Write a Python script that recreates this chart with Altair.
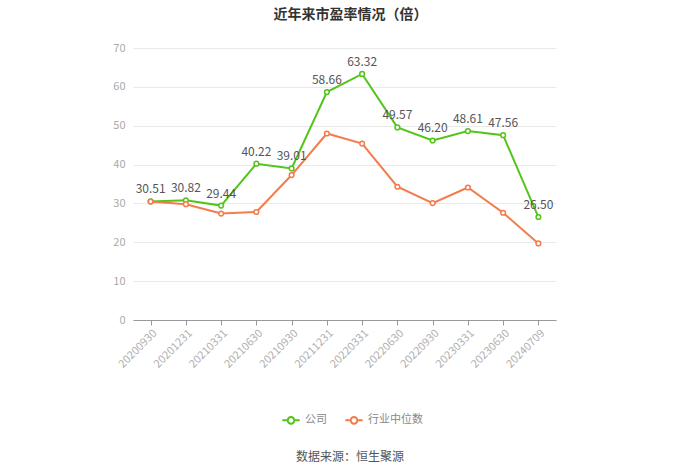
import altair as alt
import pandas as pd

dates = ["20200930", "20201231", "20210331", "20210630", "20210930", "20211231",
         "20220331", "20220630", "20220930", "20230331", "20230630", "20240709"]
company = [30.51, 30.82, 29.44, 40.22, 39.01, 58.66, 63.32, 49.57, 46.20, 48.61, 47.56, 26.50]
industry = [30.5, 29.8, 27.4, 27.8, 37.3, 48.0, 45.4, 34.3, 30.1, 34.1, 27.6, 19.7]

series_names = ["公司", "行业中位数"]
colors = ["#52c41a", "#f47b4a"]

FONT = "Noto Sans CJK SC"

rows = []
for d, c, i in zip(dates, company, industry):
    rows.append({"date": d, "series": series_names[0], "value": c, "label": f"{c:.2f}"})
    rows.append({"date": d, "series": series_names[1], "value": i, "label": ""})
df = pd.DataFrame(rows)

legend_path = ("M-1,0L-0.38,0M0.38,0L1,0"
               "M-0.38,0A0.38,0.38 0 1,1 0.38,0A0.38,0.38 0 1,1 -0.38,0")

x_enc = alt.X("date:N", sort=dates, title=None,
              scale=alt.Scale(type="point", padding=0.5),
              axis=alt.Axis(labelAngle=-45, labelColor="#b0b0b0", labelFontSize=11,
                            labelFont=FONT, domainColor="#999999", tickColor="#999999",
                            tickSize=5, grid=False, labelPadding=2))
y_enc = alt.Y("value:Q", title=None,
              scale=alt.Scale(domain=[0, 70], nice=False),
              axis=alt.Axis(values=[0, 10, 20, 30, 40, 50, 60, 70], domain=False, ticks=False,
                            labelColor="#aaaaaa", labelFontSize=11, labelFont=FONT,
                            gridColor="#e9e9e9", labelPadding=8))
color_enc = alt.Color("series:N", sort=series_names,
                      scale=alt.Scale(domain=series_names, range=colors),
                      legend=alt.Legend(title=None, orient="none", direction="horizontal",
                                        legendX=148, legendY=362, symbolType=legend_path,
                                        symbolSize=300, symbolStrokeWidth=2,
                                        symbolFillColor="white", labelFont=FONT,
                                        labelFontSize=11, labelColor="#888888",
                                        columnPadding=14, labelOffset=4))

base = alt.Chart(df)

lines = base.mark_line(strokeWidth=2).encode(
    x=x_enc, y=y_enc, color=color_enc,
    order=alt.Order("series:N")
)
points = base.mark_point(filled=True, fill="white", size=22, strokeWidth=1.5, opacity=1).encode(
    x=x_enc, y=y_enc, stroke=alt.Color("series:N", scale=alt.Scale(domain=series_names, range=colors), legend=None)
)
labels = base.transform_filter(alt.datum.series == "公司").mark_text(
    dy=-12, fontSize=12, font=FONT, color="#555555"
).encode(x=x_enc, y=y_enc, text="label:N")

source = alt.Chart(pd.DataFrame({"t": ["数据来源：恒生聚源"]})).mark_text(
    fontSize=12, font=FONT, color="#555555"
).encode(x=alt.value(217), y=alt.value(409), text="t:N")

chart = alt.layer(lines, points, labels, source).properties(
    width=423, height=272,
    background="white",
    padding={"left": 133, "top": 48, "right": 144, "bottom": 154},
    autosize=alt.AutoSizeParams(type="none"),
    title=alt.TitleParams("近年来市盈率情况（倍）", anchor="middle", dx=6, offset=20,
                          fontSize=14, font=FONT, fontWeight="bold", color="#333333")
).configure_view(strokeWidth=0, stroke=None)

chart.save("out.html", embed_options={"renderer": "svg", "actions": False})
